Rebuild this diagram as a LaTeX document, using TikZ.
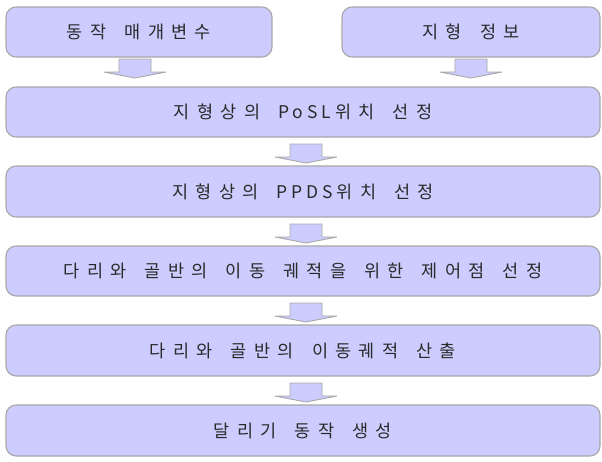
\documentclass[tikz,border=0pt]{standalone}
\usepackage{fontspec}
\newfontfamily\kr[LetterSpace=42,WordSpace=1.6]{Noto Sans CJK KR}
\newfontfamily\krlat[LetterSpace=22]{Noto Sans CJK KR}
\newcommand\latw[1]{{\krlat #1}\hspace{4pt}}
\begin{document}
\begin{tikzpicture}[x=1pt,y=-1pt,
  box/.style={draw=boxline,fill=boxfill,line width=1.1pt,rounded corners=10pt,
    inner sep=0pt,text=txt,font=\kr\fontsize{17.5}{20}\selectfont},
  blockarr/.style={draw=boxline,fill=boxfill,line width=0.9pt,line join=miter}]
\definecolor{boxfill}{HTML}{CCCCFF}
\definecolor{boxline}{HTML}{A8A8A8}
\definecolor{txt}{HTML}{2A2A2A}
\useasboundingbox (0,0) rectangle (602,461);
\node[box,minimum width=266pt,minimum height=50pt] (b1) at (139,32) {동작 매개변수};
\node[box,minimum width=258pt,minimum height=50pt] (b2) at (471,32) {지형 정보};
\node[box,minimum width=594pt,minimum height=50pt] (b3) at (303,112) {지형상의 \latw{PoSL}위치 선정};
\node[box,minimum width=594pt,minimum height=51pt] (b4) at (303,191.5) {지형상의 \latw{PPDS}위치 선정};
\node[box,minimum width=594pt,minimum height=50pt] (b5) at (303,271) {다리와 골반의 이동 궤적을 위한 제어점 선정};
\node[box,minimum width=594pt,minimum height=51pt] (b6) at (303,350.5) {다리와 골반의 이동궤적 산출};
\node[box,minimum width=594pt,minimum height=51pt] (b7) at (303,430.5) {달리기 동작 생성};
\coordinate (a1) at (135,59);
\coordinate (a2) at (471,59);
\coordinate (a3) at (306,144);
\coordinate (a4) at (306,224);
\coordinate (a5) at (306,303);
\coordinate (a6) at (306,383);
\foreach \a in {a1,a2,a3,a4,a5,a6}{
  \draw[blockarr] (\a) ++(-16,0) -- ++(32,0) -- ++(0,13) -- ++(15,0) -- ++(-31,6) -- ++(-31,-6) -- ++(15,0) -- cycle;
}
\end{tikzpicture}
\end{document}
